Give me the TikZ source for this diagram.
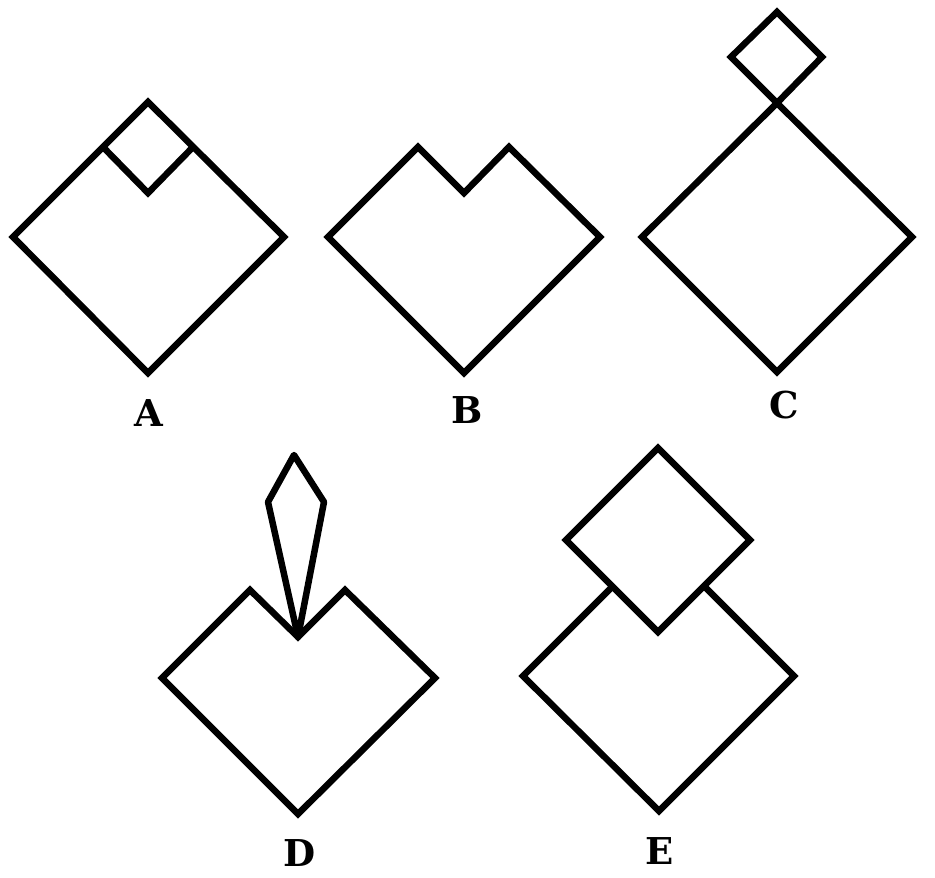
\documentclass[tikz,border=0pt]{standalone}
\usepackage{fontspec}
\setmainfont{DejaVu Serif}
\begin{document}
\begin{tikzpicture}[x=1pt,y=-1pt,
  figline/.style={draw=black,line width=6.5pt,line join=miter},
  kiteline/.style={draw=black,line width=6.5pt,line join=round},
  lbl/.style={font=\fontsize{37}{44}\selectfont\bfseries,inner sep=0pt,anchor=center}]
\useasboundingbox[fill=white] (0,0) rectangle (935,878);
% A
\draw[figline] (13,237) -- (148,102) -- (284,237) -- (148,373) -- cycle;
\draw[figline] (103,147) -- (148,193) -- (193,147);
\node[lbl] (la) at (149,413) {A};
% B
\draw[figline] (328,237) -- (418,147) -- (464,193) -- (509,147) -- (600,237) -- (464,373) -- cycle;
\node[lbl] (lb) at (467,410) {B};
% C
\draw[figline] (642,237) -- (777,103) -- (912,237) -- (777,372) -- cycle;
\draw[figline] (777,12) -- (822,57) -- (777,103) -- (731,57) -- cycle;
\node[lbl] (lc) at (784,405) {C};
% D
\draw[figline] (162,678) -- (250,590) -- (298,637) -- (345,590) -- (435,678) -- (298,814) -- cycle;
\draw[kiteline] (294,455) -- (324,502) -- (298,637) -- (268,502) -- cycle;
\node[lbl] (ld) at (300,853) {D};
% E
\draw[figline] (658,448) -- (750,540) -- (658,632) -- (566,540) -- cycle;
\draw[figline] (612.5,586.5) -- (523,676) -- (659,811) -- (794,676) -- (704,586);
\node[lbl] (le) at (660,851) {E};
\end{tikzpicture}
\end{document}
